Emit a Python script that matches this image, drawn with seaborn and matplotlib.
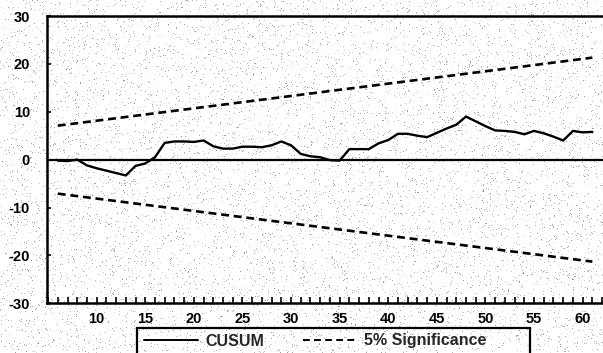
import numpy as np
import pandas as pd
import matplotlib
matplotlib.use("Agg")
import matplotlib.pyplot as plt
from matplotlib.patches import Rectangle
import seaborn as sns

# Recursive-residual CUSUM statistic by observation
obs = list(range(6, 62))
cusum = [-0.2, -0.3, 0.0, -1.2, -1.8, -2.3, -2.8, -3.3, -1.3, -0.8,
         0.5, 3.5, 3.8, 3.8, 3.7, 4.0, 2.8, 2.3, 2.3, 2.7,
         2.7, 2.6, 3.0, 3.8, 3.0, 1.2, 0.7, 0.5, -0.1, -0.2,
         2.2, 2.2, 2.2, 3.4, 4.1, 5.4, 5.4, 5.0, 4.7, 5.6,
         6.5, 7.3, 9.0, 8.0, 7.0, 6.1, 6.0, 5.8, 5.3, 6.0,
         5.5, 4.8, 4.0, 6.0, 5.7, 5.8]

# 5% significance band (straight lines between first and last observation)
band_obs = [6, 61]
band_upper = [7.1, 21.3]
band_lower = [-7.1, -21.3]

x_ticks = [10, 15, 20, 25, 30, 35, 40, 45, 50, 55, 60]
y_ticks = [-30, -20, -10, 0, 10, 20, 30]

sns.set_style("ticks")
plt.rcParams["font.family"] = ["Liberation Sans", "DejaVu Sans"]
plt.rcParams["axes.unicode_minus"] = False

W, H = 603, 353
fig = plt.figure(figsize=(W / 100, H / 100), dpi=100)

# scanned-paper grain behind the plot
rng = np.random.default_rng(7)
grain = np.ones((H, W))
mask = rng.random((H, W)) < 0.05
grain[mask] = rng.uniform(0.6, 0.9, mask.sum())
fig.figimage(np.dstack([grain] * 3), xo=0, yo=0, zorder=-10)

left_px, right_px = 46.7, 605.0
top_px, bottom_px = 16.0, 303.3
ax = fig.add_axes([left_px / W, 1 - bottom_px / H,
                   (right_px - left_px) / W, (bottom_px - top_px) / H])
ax.set_zorder(5)
ax.set_facecolor("none")

df = pd.DataFrame({"obs": obs, "CUSUM": cusum})
band = pd.DataFrame({"obs": band_obs, "upper": band_upper, "lower": band_lower})

sns.lineplot(data=df, x="obs", y="CUSUM", ax=ax, color="black",
             linewidth=1.7, label="CUSUM")
sns.lineplot(data=band, x="obs", y="upper", ax=ax, color="black",
             linewidth=1.9, label="5% Significance")
sns.lineplot(data=band, x="obs", y="lower", ax=ax, color="black",
             linewidth=1.9, label="_nolegend_")
for ln in ax.get_lines()[1:3]:
    ln.set_linestyle((0, (3, 1.8)))

ax.axhline(0, color="black", linewidth=1.6, zorder=1)

ax.set_xlim(4.86, 62.3)
ax.set_ylim(-30, 30)
ax.set_xticks(x_ticks)
ax.set_xticks(range(5, 63), minor=True)
ax.set_yticks(y_ticks)
ax.set_xlabel("")
ax.set_ylabel("")

for s in ["left", "bottom", "top"]:
    ax.spines[s].set_linewidth(1.8)
    ax.spines[s].set_color("black")
ax.spines["right"].set_visible(False)

ax.tick_params(axis="x", which="both", direction="in", length=4, width=1.2,
               pad=6, labelsize=10.5, colors="black")
ax.tick_params(axis="y", which="both", direction="in", length=3, width=1.2,
               pad=12, labelsize=10.5, colors="black")
for lab in ax.get_xticklabels() + ax.get_yticklabels():
    lab.set_fontweight("bold")

# legend entries without their own frame; a wide box is drawn around them
leg = ax.legend(loc="center left", bbox_to_anchor=(144 / W, 1 - 341 / H),
                bbox_transform=fig.transFigure, ncol=2, frameon=False,
                borderpad=0, borderaxespad=0,
                handlelength=3.4, handletextpad=0.45, columnspacing=2.4,
                prop={"weight": "bold", "size": 11.5})
for h in leg.get_lines():
    h.set_linewidth(1.4)
leg.get_lines()[1].set_linestyle((0, (3.5, 2.2)))

fig.patches.append(Rectangle((137 / W, 1 - 362 / H), (530 - 137) / W, 34 / H,
                             transform=fig.transFigure, fill=False,
                             edgecolor="black", linewidth=1.6, zorder=6))

fig.savefig("out.png", dpi=100)
